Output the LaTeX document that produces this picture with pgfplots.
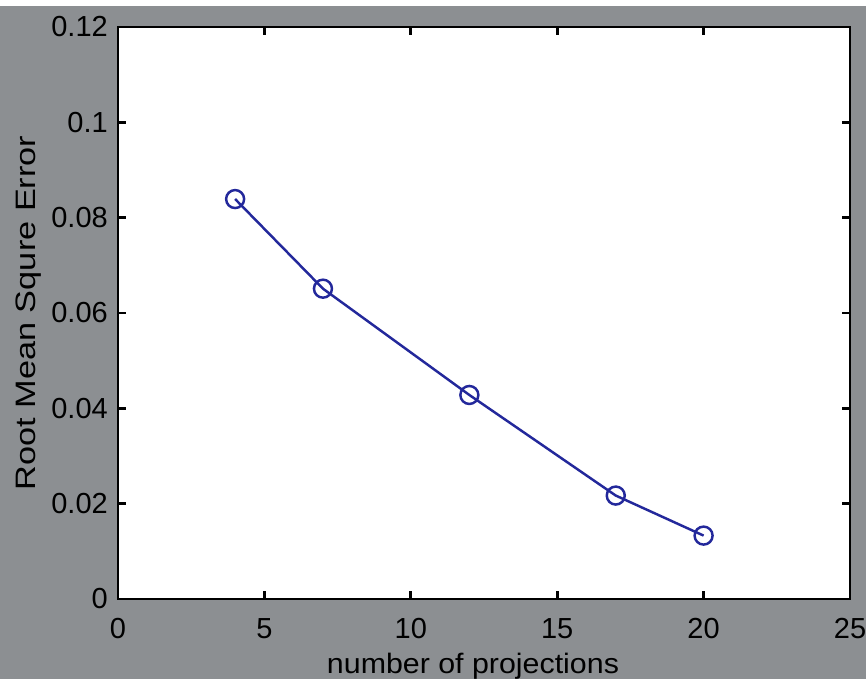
\documentclass[border=0pt]{standalone}
\usepackage{pgfplots}
\pgfplotsset{compat=1.18}
\usepackage{fontspec}
\setmainfont{Liberation Sans}
\definecolor{bgcol}{RGB}{140,143,146}
\definecolor{linecol}{RGB}{35,40,155}
\begin{document}
\begin{tikzpicture}
\useasboundingbox (-2.36,-1.6) rectangle (14.96,11.98);
\fill[bgcol] (-2.36,-1.6) rectangle (14.96,11.86);
\begin{axis}[
    at={(0,0)}, anchor=south west,
    scale only axis,
    width=14.64cm, height=11.44cm,
    xmin=0, xmax=25, ymin=0, ymax=0.12,
    xtick={0,5,10,15,20,25},
    ytick={0,0.02,0.04,0.06,0.08,0.1,0.12},
    yticklabels={0,0.02,0.04,0.06,0.08,0.1,0.12},
    axis background/.style={fill=white},
    axis line style={black, line width=1.5pt},
    tick style={black, line width=1.5pt},
    tick align=inside,
    major tick length=0.16cm,
    ticklabel style={font=\fontsize{16.5}{18}\selectfont},
    xticklabel style={yshift=-0.26cm},
    yticklabel style={xshift=-0.08cm},
    /pgf/number format/assume math mode=true,
    xlabel={number of projections},
    ylabel={Root Mean Squre Error},
    xlabel style={font=\fontsize{16}{18}\selectfont, yshift=-0.05cm, xshift=-0.22cm, xscale=1.08},
    ylabel style={font=\fontsize{16}{18}\selectfont, yshift=-0.04cm, xscale=1.22},
    clip=false,
]
\addplot[linecol, line width=1.4pt, mark=o, mark size=0.18cm,
    mark options={line width=1.4pt}]
    coordinates {(4,0.0839) (7,0.0651) (12,0.0428) (17,0.0217) (20,0.0133)};
\end{axis}
\end{tikzpicture}
\end{document}
